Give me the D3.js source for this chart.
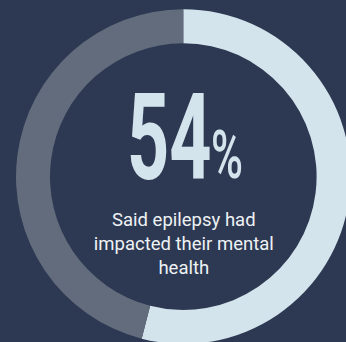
<!DOCTYPE html>
<html>
<head>
<meta charset="utf-8">
<script src="https://cdn.jsdelivr.net/npm/d3@7"></script>
<style>
  html, body { margin: 0; padding: 0; background: #2d3952; }
  svg { display: block; }
</style>
</head>
<body>
<svg id="chart" width="346" height="342"></svg>
<script>
// Share of respondents: impacted vs. not impacted
const categories = ["Impacted", "Not impacted"];
const values = [54, 46];
const captionLines = ["Said epilepsy had", "impacted their mental", "health"];

const W = 346, H = 342;
const cx = 183.3, cy = 176.6;
const outerR = 167.3, innerR = 133.3;

const colors = d3.scaleOrdinal()
  .domain(categories)
  .range(["#d4e4ed", "#626c7d"]);

const svg = d3.select("#chart");
svg.append("rect").attr("width", W).attr("height", H).attr("fill", "#2d3952");

const g = svg.append("g").attr("transform", `translate(${cx},${cy})`);

const pie = d3.pie().sort(null).value(d => d.value);
const arc = d3.arc().innerRadius(innerR).outerRadius(outerR);

const data = categories.map((c, i) => ({ category: c, value: values[i] }));

g.selectAll("path.slice")
  .data(pie(data))
  .join("path")
  .attr("class", "slice")
  .attr("d", arc)
  .attr("fill", d => colors(d.data.category));

// Big percentage figure, horizontally condensed
const numG = g.append("g");
const num = numG.append("text")
  .attr("x", 0)
  .attr("y", 0)
  .attr("font-family", "Roboto")
  .attr("font-weight", 700)
  .attr("font-size", 121)
  .attr("fill", colors(categories[0]))
  .text(String(values[0]));

const nb = num.node().getBBox();
const targetLeft = 127 - cx, targetRight = 211.5 - cx, baseline = 178.5 - cy;
const sx = (targetRight - targetLeft) / nb.width;
numG.attr("transform", `translate(${targetLeft - nb.x * sx},${baseline}) scale(${sx},1)`);

const pctG = g.append("g");
const pct = pctG.append("text")
  .attr("x", 0)
  .attr("y", 0)
  .attr("font-family", "Roboto")
  .attr("font-weight", 500)
  .attr("font-size", 66)
  .attr("fill", colors(categories[0]))
  .text("%");
const pb = pct.node().getBBox();
const pLeft = 211 - cx, pRight = 243 - cx, pBase = 177.5 - cy;
const psx = (pRight - pLeft) / pb.width;
pctG.attr("transform", `translate(${pLeft - pb.x * psx},${pBase}) scale(${psx},1)`);

// Caption
g.append("text")
  .attr("text-anchor", "middle")
  .attr("font-family", "Roboto")
  .attr("font-size", 18.5)
  .attr("fill", "#eef2f5")
  .selectAll("tspan")
  .data(captionLines)
  .join("tspan")
  .attr("x", 0.5)
  .attr("y", (d, i) => 226.5 - cy + i * 24)
  .text(d => d);
</script>
</body>
</html>
